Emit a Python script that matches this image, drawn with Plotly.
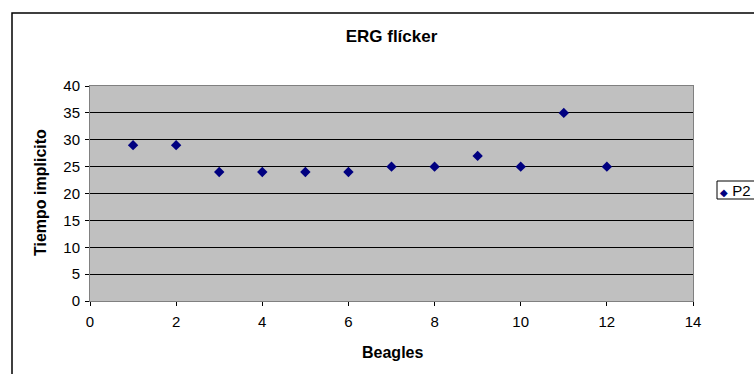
import plotly.graph_objects as go

# Beagle ERG flicker implicit times (series P2)
beagles = [1, 2, 3, 4, 5, 6, 7, 8, 9, 10, 11, 12]
tiempo_p2 = [29, 29, 24, 24, 24, 24, 25, 25, 27, 25, 35, 25]
series_name = "P2"

x_ticks = [0, 2, 4, 6, 8, 10, 12, 14]
y_ticks = [0, 5, 10, 15, 20, 25, 30, 35, 40]

W, H = 754, 374
L, R, T, B = 90, 61, 86, 73
pw, ph = W - L - R, H - T - B
FONT = "Arial, Liberation Sans, sans-serif"
NAVY = "#000080"


def px_x(px):
    return (px - L) / pw


def px_y(py):
    return (H - B - py) / ph


fig = go.Figure()
fig.add_trace(go.Scatter(
    x=beagles, y=tiempo_p2, mode="markers", name=series_name,
    marker=dict(symbol="diamond", size=8, color=NAVY, line=dict(width=0)),
    showlegend=False,
))

fig.update_layout(
    width=W, height=H,
    margin=dict(l=L, r=R, t=T, b=B, autoexpand=False),
    paper_bgcolor="#FFFFFF",
    plot_bgcolor="#C0C0C0",
    font=dict(family=FONT, size=15, color="#000000"),
    title=dict(text="<b>ERG flícker</b>", x=px_x(391.5), xref="paper",
               xanchor="center", y=1 - 36 / H, yanchor="middle",
               font=dict(family=FONT, size=17, color="#000000")),
    showlegend=False,
    xaxis=dict(range=[0, 14], tickvals=x_ticks, ticks="outside", ticklen=4,
               tickcolor="#000000", showgrid=False, zeroline=False,
               showline=True, linecolor="#808080", linewidth=1, mirror=True,
               tickfont=dict(size=15), ticklabelstandoff=3),
    yaxis=dict(range=[0, 40], tickvals=y_ticks, ticks="outside", ticklen=4,
               tickcolor="#000000", showgrid=True, gridcolor="#000000",
               gridwidth=1, zeroline=False,
               showline=True, linecolor="#808080", linewidth=1, mirror=True,
               tickfont=dict(size=15), ticklabelstandoff=2),
    annotations=[
        dict(text="<b>Beagles</b>", xref="paper", yref="paper",
             x=px_x(392), y=px_y(352), xanchor="center", yanchor="middle",
             showarrow=False, font=dict(family=FONT, size=16)),
        dict(text="<b>Tiempo implicito</b>", xref="paper", yref="paper",
             x=px_x(40), y=px_y(193), xanchor="center", yanchor="middle",
             textangle=-90, showarrow=False, font=dict(family=FONT, size=16)),
        # legend entry
        dict(text=f"<span style='color:{NAVY};font-size:10px'>◆</span> {series_name}",
             xref="paper", yref="paper",
             x=px_x(718), y=px_y(190), xanchor="left", yanchor="middle",
             showarrow=False, font=dict(family=FONT, size=15)),
    ],
    shapes=[
        # outer chart frame
        dict(type="rect", xref="paper", yref="paper",
             x0=px_x(12), x1=px_x(770), y0=px_y(13), y1=px_y(390),
             line=dict(color="#000000", width=1.5), layer="below"),
        # legend box
        dict(type="rect", xref="paper", yref="paper",
             x0=px_x(717), x1=px_x(770), y0=px_y(181), y1=px_y(199),
             line=dict(color="#000000", width=1), fillcolor="#FFFFFF",
             layer="below"),
    ],
)

fig.write_html("out.html")
